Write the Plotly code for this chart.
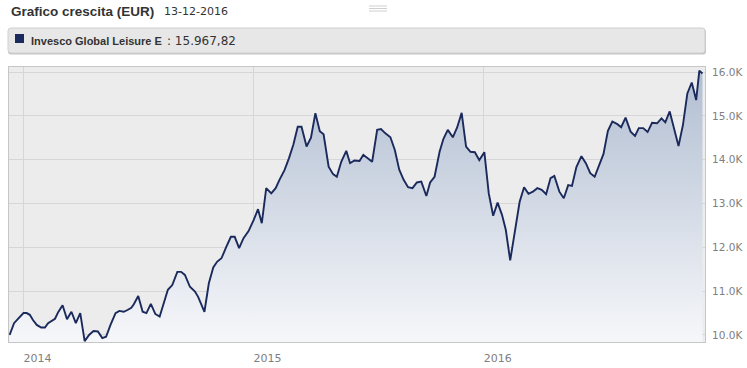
import plotly.graph_objects as go

# ---------------- data ----------------
dates = [
    "2013-12-10", "2013-12-17", "2013-12-24", "2014-01-01", "2014-01-06", "2014-01-11",
    "2014-01-16", "2014-01-22", "2014-01-29", "2014-02-04", "2014-02-09", "2014-02-15",
    "2014-02-20", "2014-02-25", "2014-03-04", "2014-03-11", "2014-03-18", "2014-03-25",
    "2014-04-01", "2014-04-08", "2014-04-15", "2014-04-22", "2014-04-29", "2014-05-06",
    "2014-05-12", "2014-05-19", "2014-05-27", "2014-06-02", "2014-06-09", "2014-06-15",
    "2014-06-21", "2014-06-25", "2014-07-02", "2014-07-09", "2014-07-15", "2014-07-22",
    "2014-07-29", "2014-08-05", "2014-08-12", "2014-08-18", "2014-08-25", "2014-09-02",
    "2014-09-08", "2014-09-14", "2014-09-22", "2014-09-30", "2014-10-05", "2014-10-15",
    "2014-10-22", "2014-10-29", "2014-11-04", "2014-11-11", "2014-11-19", "2014-11-26",
    "2014-12-02", "2014-12-09", "2014-12-16", "2014-12-24", "2015-01-01", "2015-01-08",
    "2015-01-14", "2015-01-21", "2015-01-29", "2015-02-05", "2015-02-11", "2015-02-19",
    "2015-02-26", "2015-03-05", "2015-03-12", "2015-03-18", "2015-03-26", "2015-04-02",
    "2015-04-09", "2015-04-16", "2015-04-22", "2015-04-30", "2015-05-07", "2015-05-13",
    "2015-05-20", "2015-05-28", "2015-06-03", "2015-06-10", "2015-06-18", "2015-06-24",
    "2015-07-02", "2015-07-08", "2015-07-16", "2015-07-22", "2015-07-29", "2015-08-06",
    "2015-08-13", "2015-08-20", "2015-08-27", "2015-09-03", "2015-09-10", "2015-09-17",
    "2015-09-24", "2015-10-02", "2015-10-08", "2015-10-15", "2015-10-23", "2015-10-29",
    "2015-11-05", "2015-11-13", "2015-11-20", "2015-11-27", "2015-12-04", "2015-12-11",
    "2015-12-18", "2015-12-25", "2016-01-02", "2016-01-09", "2016-01-16", "2016-01-23",
    "2016-01-30", "2016-02-05", "2016-02-12", "2016-02-20", "2016-02-27", "2016-03-05",
    "2016-03-12", "2016-03-19", "2016-03-26", "2016-04-02", "2016-04-09", "2016-04-16",
    "2016-04-22", "2016-04-30", "2016-05-07", "2016-05-14", "2016-05-20", "2016-05-27",
    "2016-06-04", "2016-06-11", "2016-06-18", "2016-06-25", "2016-07-02", "2016-07-09",
    "2016-07-16", "2016-07-23", "2016-07-31", "2016-08-06", "2016-08-13", "2016-08-21",
    "2016-08-28", "2016-09-03", "2016-09-10", "2016-09-17", "2016-09-24", "2016-10-02",
    "2016-10-09", "2016-10-15", "2016-10-22", "2016-10-29", "2016-11-05", "2016-11-12",
    "2016-11-19", "2016-11-26", "2016-12-03", "2016-12-08", "2016-12-13",
]
values = [
    10000, 10270, 10380, 10500, 10500, 10460,
    10340, 10230, 10170, 10170, 10270, 10330,
    10370, 10520, 10680, 10360, 10530, 10270,
    10500, 9860, 10000, 10090, 10080, 9930,
    9960, 10230, 10500, 10550, 10530, 10570,
    10620, 10700, 10890, 10530, 10500, 10710,
    10480, 10420, 10720, 11030, 11140, 11440,
    11440, 11370, 11100, 10990, 10870, 10530,
    11180, 11540, 11670, 11750, 12020, 12240,
    12240, 11980, 12210, 12370, 12620, 12870,
    12550, 13350, 13230, 13350, 13540, 13760,
    14030, 14340, 14750, 14750, 14300, 14500,
    15060, 14650, 14580, 13840, 13670, 13610,
    13950, 14200, 13920, 13980, 13970, 14110,
    14020, 13950, 14680, 14700, 14600, 14510,
    14220, 13770, 13540, 13370, 13350, 13480,
    13500, 13170, 13480, 13610, 14180, 14470,
    14680, 14510, 14740, 15070, 14300, 14180,
    14170, 13990, 14170, 13230, 12720, 13020,
    12740, 12400, 11700, 12400, 13040, 13370,
    13220, 13270, 13350, 13310, 13210, 13580,
    13630, 13270, 13120, 13420, 13400, 13830,
    14080, 13920, 13690, 13610, 13860, 14130,
    14660, 14870, 14810, 14740, 14960, 14640,
    14540, 14720, 14720, 14630, 14840, 14830,
    14940, 14850, 15100, 14720, 14310, 14790,
    15510, 15760, 15360, 16030, 15967.82,
]
series_name = "Invesco Global Leisure E"
last_value_label = "15.967,82"
chart_title = "Grafico crescita (EUR)"
chart_date = "13-12-2016"

x_tick_vals = ["2014-01-01", "2015-01-01", "2016-01-01"]
x_tick_text = ["2014", "2015", "2016"]
y_tick_vals = [10000, 11000, 12000, 13000, 14000, 15000, 16000]
y_tick_text = ["10.0K", "11.0K", "12.0K", "13.0K", "14.0K", "15.0K", "16.0K"]

# ---------------- layout helpers ----------------
W, H = 747, 368
ML, MR, MT, MB = 9, 42, 67, 26
PW, PH = W - ML - MR, H - MT - MB


def px(x):
    return (x - ML) / PW


def py(y):
    return (H - MB - y) / PH


NAVY = "#1b2a5c"
LABEL = "#808080"

fig = go.Figure()
fig.add_trace(go.Scatter(
    x=dates, y=values, mode="lines",
    line=dict(color=NAVY, width=1.9),
    fill="tozeroy",
    fillgradient=dict(type="vertical",
                      colorscale=[[0, "#f6f7fa"], [1, "#b0bdd1"]],
                      start=9840, stop=16100),
    hoverinfo="skip", showlegend=False,
))

shapes = []


def rounded(x0, y0, x1, y1, r):
    return (f"M {px(x0 + r)},{py(y0)} L {px(x1 - r)},{py(y0)} "
            f"Q {px(x1)},{py(y0)} {px(x1)},{py(y0 + r)} L {px(x1)},{py(y1 - r)} "
            f"Q {px(x1)},{py(y1)} {px(x1 - r)},{py(y1)} L {px(x0 + r)},{py(y1)} "
            f"Q {px(x0)},{py(y1)} {px(x0)},{py(y1 - r)} L {px(x0)},{py(y0 + r)} "
            f"Q {px(x0)},{py(y0)} {px(x0 + r)},{py(y0)} Z")


shapes.append(dict(type="path", xref="paper", yref="paper", path=rounded(8, 29, 706, 54.5, 3),
                   fillcolor="#c4c4c4", line=dict(width=0), layer="above"))
shapes.append(dict(type="path", xref="paper", yref="paper", path=rounded(8, 28, 705, 53, 3),
                   fillcolor="#e7e7e7", line=dict(color="#cfcfcf", width=1), layer="above"))
shapes.append(dict(type="rect", xref="paper", yref="paper",
                   x0=px(15), x1=px(24), y0=py(34), y1=py(43),
                   fillcolor=NAVY, line=dict(width=0), layer="above"))
# menu icon
for yy in (6, 8.5, 11):
    shapes.append(dict(type="line", xref="paper", yref="paper",
                       x0=px(369), x1=px(387), y0=py(yy), y1=py(yy),
                       line=dict(color="#cfcfcf", width=1), layer="above"))

annotations = [
    dict(text=f"<b>{chart_title}</b>", x=px(9), y=py(11.5), xref="paper", yref="paper",
         xanchor="left", yanchor="middle", showarrow=False,
         font=dict(family="Liberation Sans", size=13.5, color="#333333")),
    dict(text=chart_date, x=px(162), y=py(11.5), xref="paper", yref="paper",
         xanchor="left", yanchor="middle", showarrow=False,
         font=dict(family="DejaVu Sans", size=11, color="#333333")),
    dict(text=f"<b>{series_name}</b>", x=px(28.5), y=py(41.5), xref="paper", yref="paper",
         xanchor="left", yanchor="middle", showarrow=False,
         font=dict(family="Liberation Sans", size=11, color="#333333")),
    dict(text=f": {last_value_label}", x=px(165), y=py(41.5), xref="paper", yref="paper",
         xanchor="left", yanchor="middle", showarrow=False,
         font=dict(family="DejaVu Sans", size=12, color="#333333")),
]

fig.update_layout(
    width=W, height=H,
    margin=dict(l=ML, r=MR, t=MT, b=MB, pad=0),
    paper_bgcolor="#ffffff", plot_bgcolor="#ececec",
    shapes=shapes, annotations=annotations,
    showlegend=False,
    xaxis=dict(type="date", range=["2013-12-09", "2016-12-17"],
               tickvals=x_tick_vals, ticktext=x_tick_text,
               showgrid=True, gridcolor="#d6d6d6", gridwidth=1,
               showline=True, mirror=True, linecolor="#c6c6c6", linewidth=1,
               ticks="outside", ticklen=6, tickcolor="rgba(0,0,0,0)",
               ticklabelshift=14, automargin=False,
               tickfont=dict(family="DejaVu Sans", size=11, color=LABEL),
               zeroline=False, fixedrange=True),
    yaxis=dict(side="right", range=[9840, 16114],
               tickvals=y_tick_vals, ticktext=y_tick_text,
               showgrid=True, gridcolor="#d6d6d6", gridwidth=1,
               showline=True, mirror=True, linecolor="#c6c6c6", linewidth=1,
               ticks="outside", ticklen=4, tickcolor="rgba(0,0,0,0)",
               automargin=False,
               tickfont=dict(family="DejaVu Sans", size=10.5, color=LABEL),
               zeroline=False, fixedrange=True),
)

fig.write_html("out.html", config={"displayModeBar": False})
